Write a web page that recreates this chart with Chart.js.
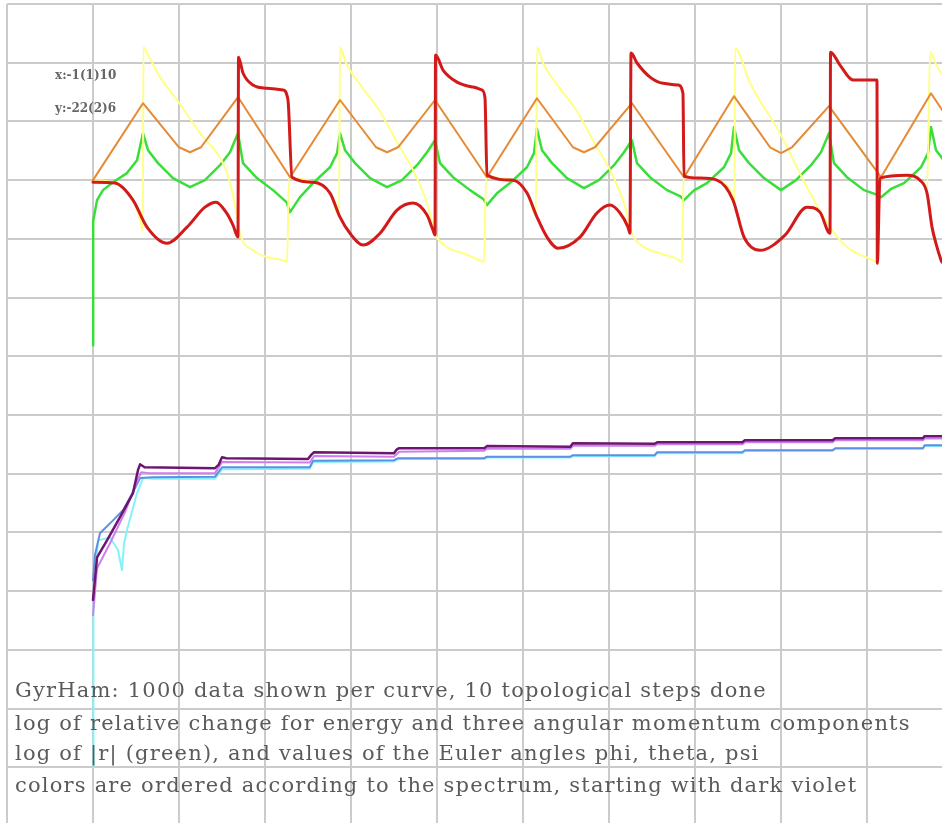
<!DOCTYPE html>
<html>
<head>
<meta charset="utf-8">
<title>GyrHam</title>
<script src="https://cdn.jsdelivr.net/npm/chart.js@4.4.1/dist/chart.umd.min.js"></script>
<style>
  html, body { margin: 0; padding: 0; background: #fff; overflow: hidden; }
  #wrap { position: relative; width: 960px; height: 830px; }
  #chart { position: absolute; left: 0; top: 0; }
  .note { position: absolute; font-family: "DejaVu Serif", serif; color: #5a5a5a; white-space: nowrap; }
  .range { left: 55px; font-size: 12px; font-weight: bold; color: #666; }
  .caption { left: 15px; font-size: 21px; letter-spacing: 1.2px; }
</style>
</head>
<body>
<div id="wrap">
  <canvas id="chart" width="960" height="830"></canvas>
  <div class="note range" style="top:68px">x:-1(1)10</div>
  <div class="note range" style="top:101px">y:-22(2)6</div>
  <div class="note caption" style="top:678px">GyrHam: 1000 data shown per curve, 10 topological steps done</div>
  <div class="note caption" style="top:711px">log of relative change for energy and three angular momentum components</div>
  <div class="note caption" style="top:741px">log of |r| (green), and values of the Euler angles phi, theta, psi</div>
  <div class="note caption" style="top:773px">colors are ordered according to the spectrum, starting with dark violet</div>
</div>
<script>
// axis ranges: x:-1(1)10 , y:-22(2)6
const xMin = -1, xMax = 10, xStep = 1
const yMin = -22, yMax = 6, yStep = 2

// log of relative change (energy + 3 angular momentum components)
const darkViolet = [[0,-14.3],[0.047,-12.85],[0.163,-12.27],[0.314,-11.48],[0.465,-10.66],[0.523,-9.88],[0.547,-9.68],[0.6,-9.78],[1.42,-9.81],[1.46,-9.7],[1.5,-9.44],[1.55,-9.47],[2.5,-9.5],[2.54,-9.35],[2.57,-9.27],[3.5,-9.3],[3.53,-9.18],[3.56,-9.13],[4.55,-9.13],[4.58,-9.06],[5.55,-9.08],[5.58,-8.96],[6.53,-8.98],[6.56,-8.93],[7.55,-8.93],[7.58,-8.86],[8.6,-8.86],[8.63,-8.79],[9.65,-8.79],[9.67,-8.72],[10,-8.72]]
const violet = [[0,-14.82],[0.047,-13.22],[0.198,-12.37],[0.372,-11.31],[0.488,-10.42],[0.56,-9.95],[0.65,-9.98],[1.42,-9.98],[1.5,-9.6],[2.52,-9.62],[2.57,-9.4],[3.5,-9.42],[3.56,-9.25],[4.55,-9.22],[4.58,-9.15],[5.55,-9.15],[5.58,-9.05],[6.53,-9.05],[6.56,-9.0],[7.55,-9.0],[7.58,-8.93],[8.6,-8.93],[8.63,-8.86],[9.65,-8.86],[9.67,-8.8],[10,-8.8]]
const blue = [[0,-13.63],[0.023,-12.77],[0.081,-12.03],[0.233,-11.59],[0.349,-11.24],[0.465,-10.63],[0.547,-10.15],[0.7,-10.12],[1.42,-10.1],[1.5,-9.78],[2.52,-9.78],[2.56,-9.56],[3.5,-9.54],[3.55,-9.47],[4.55,-9.47],[4.58,-9.42],[5.55,-9.42],[5.58,-9.37],[6.53,-9.37],[6.56,-9.27],[7.55,-9.27],[7.58,-9.2],[8.6,-9.2],[8.63,-9.13],[9.65,-9.13],[9.67,-9.03],[10,-9.03]]
const cyan = [[0,-20],[0.005,-14.5],[0.058,-12.27],[0.198,-12.17],[0.291,-12.6],[0.337,-13.29],[0.36,-12.4],[0.395,-11.92],[0.512,-10.66],[0.581,-10.15],[0.7,-10.17],[1.42,-10.17],[1.5,-9.85],[2.52,-9.83],[2.56,-9.6],[3.5,-9.58],[3.55,-9.5],[4.55,-9.5],[4.58,-9.45],[5.55,-9.45],[5.58,-9.4],[6.53,-9.4],[6.56,-9.3],[7.55,-9.3],[7.58,-9.23],[8.6,-9.22],[8.63,-9.15],[9.65,-9.15],[9.67,-9.06],[10,-9.06]]

// log |r|
const green = [[0,-5.62],[0.002,-1.4],[0.047,-0.68],[0.116,-0.34],[0.233,-0.07],[0.395,0.24],[0.512,0.68],[0.581,1.6],
  [0.64,1.02],[0.756,0.58],[0.93,0.07],[1.128,-0.24],[1.302,0],[1.477,0.51],[1.593,0.95],[1.686,1.6],[1.744,0.58],[1.895,0.1],[2.093,-0.34],[2.25,-0.75],[2.291,-1.09],
  [2.407,-0.58],[2.558,-0.1],[2.756,0.44],[2.838,0.92],[2.872,1.6],
  [2.931,1.02],[3.047,0.58],[3.221,0.07],[3.419,-0.24],[3.593,0],[3.768,0.51],[3.884,0.95],[3.977,1.36],[4.035,0.58],[4.186,0.1],[4.384,-0.34],[4.541,-0.65],[4.581,-0.85],
  [4.697,-0.45],[4.848,-0.1],[5.046,0.44],[5.128,0.92],[5.162,1.75],
  [5.221,1.02],[5.337,0.58],[5.511,0.07],[5.709,-0.27],[5.883,0],[6.058,0.51],[6.174,0.95],[6.267,1.36],[6.325,0.58],[6.476,0.1],[6.674,-0.34],[6.831,-0.55],[6.872,-0.68],
  [6.988,-0.35],[7.139,-0.1],[7.337,0.44],[7.419,0.92],[7.453,1.81],
  [7.512,1.02],[7.628,0.58],[7.802,0.07],[8.0,-0.34],[8.174,0],[8.349,0.51],[8.465,0.95],[8.558,1.6],[8.616,0.58],[8.767,0.1],[8.965,-0.34],[9.122,-0.5],[9.163,-0.58],
  [9.279,-0.3],[9.43,-0.1],[9.628,0.44],[9.71,0.92],[9.744,1.81],[9.803,1.02],[9.919,0.58],[10.093,0.07]]

// Euler angles
const phi = [[0,0],[0.256,-0.1],[0.465,-0.68],[0.56,-1.5],[0.58,-1.75],[0.586,4.53],[0.628,4.33],[0.779,3.51],[0.977,2.73],[1.244,1.6],[1.558,0.24],[1.674,-1.19],[1.709,-1.81],[1.86,-2.39],[2.023,-2.62],[2.209,-2.73],[2.256,-2.79],
  [2.28,0.07],[2.558,-0.07],[2.756,-0.44],[2.86,-1.19],[2.872,4.53],[2.942,3.99],[3.128,3.17],[3.326,2.39],[3.523,1.36],[3.721,0.34],[3.884,-0.78],[3.977,-1.81],[4.116,-2.28],[4.302,-2.49],[4.5,-2.73],[4.547,-2.79],
  [4.57,0.1],[4.884,0],[5.047,-0.44],[5.15,-1.19],[5.163,4.53],[5.233,3.99],[5.419,3.17],[5.617,2.39],[5.814,1.36],[6.012,0.34],[6.174,-0.78],[6.267,-1.81],[6.407,-2.28],[6.593,-2.49],[6.791,-2.68],[6.85,-2.79],
  [6.866,0.1],[7.058,0.07],[7.256,0],[7.43,-0.5],[7.46,-0.9],[7.465,4.49],[7.64,3.3],[7.988,1.6],[8.302,-0.24],[8.57,-1.6],[8.767,-2.28],[9.07,-2.73],[9.116,-2.79],
  [9.13,0.1],[9.465,0.17],[9.616,0],[9.7,-0.3],[9.733,4.36],[9.81,3.9],[9.99,3.1],[10.2,2.3]]
const theta = [[0,0],[0.581,2.62],[1.0,1.12],[1.128,0.95],[1.256,1.12],[1.686,2.83],
  [2.291,0.1],[2.872,2.73],[3.291,1.12],[3.419,0.95],[3.547,1.12],[3.977,2.73],
  [4.581,0.1],[5.162,2.79],[5.581,1.12],[5.709,0.95],[5.837,1.12],[6.267,2.62],
  [6.872,0.1],[7.453,2.86],[7.872,1.12],[8.0,0.92],[8.128,1.12],[8.558,2.52],
  [9.163,0.1],[9.744,2.96],[10.163,1.12]]
const psi = [[0,-0.07],[0.256,-0.1],[0.465,-0.68],[0.628,-1.6],[0.86,-2.15],[1.093,-1.6],[1.302,-0.92],[1.43,-0.75],[1.547,-1.09],[1.628,-1.53],[1.686,-1.94],
  [1.692,4.19],[1.744,3.65],[1.86,3.24],[2.023,3.13],[2.209,3.07],[2.267,2.73],[2.314,0.1],
  [2.558,-0.07],[2.756,-0.44],[2.872,-1.26],[2.988,-1.81],[3.14,-2.21],[3.337,-1.81],[3.535,-1.02],[3.721,-0.78],[3.884,-1.19],[3.953,-1.7],[3.977,-1.87],
  [3.983,4.26],[4.07,3.75],[4.233,3.34],[4.419,3.17],[4.523,3.07],[4.558,2.8],[4.581,0.17],
  [4.884,0],[5.047,-0.44],[5.163,-1.26],[5.279,-1.94],[5.407,-2.32],[5.663,-1.94],[5.86,-1.12],[6.012,-0.85],[6.128,-1.12],[6.221,-1.6],[6.244,-1.81],
  [6.256,4.33],[6.326,3.99],[6.477,3.51],[6.628,3.3],[6.802,3.24],[6.86,2.96],[6.872,0.14],
  [7.058,0.07],[7.256,0],[7.442,-0.68],[7.57,-1.94],[7.756,-2.39],[8.047,-1.87],[8.302,-0.92],[8.453,-1.09],[8.57,-1.81],
  [8.576,4.36],[8.686,3.92],[8.837,3.41],[9.116,3.41],[9.12,-2.83],[9.151,0.07],
  [9.465,0.17],[9.616,0],[9.698,-0.44],[9.756,-1.6],[9.814,-2.28],[9.849,-2.62],[9.872,-2.79],[10,-2.9]]

function toPoints(pairs) {
  return pairs.map(p => ({ x: p[0], y: p[1] }))
}

function line(data, color, width, smooth) {
  return {
    data: toPoints(data),
    borderColor: color,
    borderWidth: width,
    pointRadius: 0,
    fill: false,
    tension: 0,
    cubicInterpolationMode: smooth ? 'monotone' : 'default',
    borderJoinStyle: 'round',
    borderCapStyle: 'round'
  }
}

const gridStyle = { color: '#cbcbcb', lineWidth: 2, drawTicks: false }

new Chart(document.getElementById('chart'), {
  type: 'line',
  data: {
    datasets: [
      // first dataset is painted last (on top)
      line(psi, '#d21a1a', 3, true),
      line(theta, '#e58a35', 2, false),
      line(phi, '#ffff85', 2, true),
      line(green, '#3ade3a', 2.5, false),
      line(darkViolet, '#6c1670', 2.5, false),
      line(violet, '#cf7ef0', 2, false),
      line(blue, '#5e8fe6', 2, false),
      line(cyan, '#84f3f8', 2, false)
    ]
  },
  options: {
    responsive: false,
    animation: false,
    events: [],
    layout: { padding: { left: 7, right: 7, top: 4, bottom: 4 } },
    plugins: { legend: { display: false }, tooltip: { enabled: false } },
    scales: {
      x: {
        type: 'linear', min: xMin, max: xMax,
        ticks: { display: false, stepSize: xStep },
        grid: gridStyle,
        border: { display: false }
      },
      y: {
        type: 'linear', min: yMin, max: yMax,
        ticks: { display: false, stepSize: yStep },
        grid: gridStyle,
        border: { display: false }
      }
    }
  }
})
</script>
</body>
</html>
